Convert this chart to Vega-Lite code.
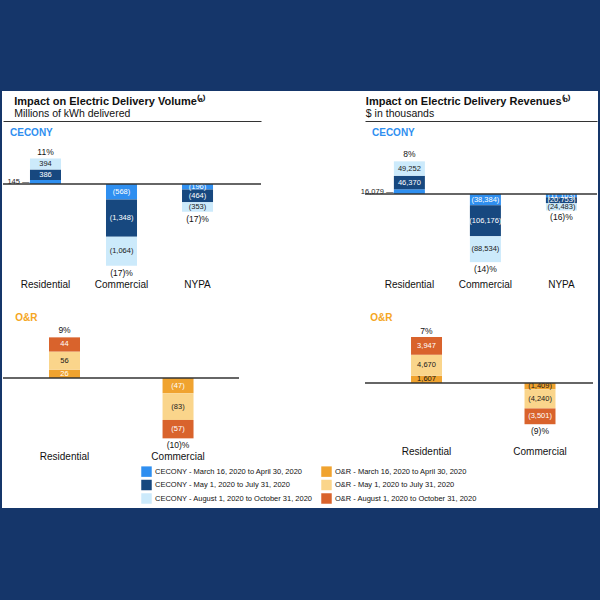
{
  "$schema": "https://vega.github.io/schema/vega-lite/v6.json",
  "background": "white",
  "padding": 0,
  "config": {"font": "Liberation Sans", "view": {"stroke": null}},
  "datasets": {
    "d": [
      {"company":"CECONY","metric":"Volume","category":"Residential","p":1,"series":"CECONY - March 16, 2020 to April 30, 2020","value":145,"pct":"11%"},
      {"company":"CECONY","metric":"Volume","category":"Residential","p":2,"series":"CECONY - May 1, 2020 to July 31, 2020","value":386,"pct":"11%"},
      {"company":"CECONY","metric":"Volume","category":"Residential","p":3,"series":"CECONY - August 1, 2020 to October 31, 2020","value":394,"pct":"11%"},
      {"company":"CECONY","metric":"Volume","category":"Commercial","p":1,"series":"CECONY - March 16, 2020 to April 30, 2020","value":-568,"pct":"(17)%"},
      {"company":"CECONY","metric":"Volume","category":"Commercial","p":2,"series":"CECONY - May 1, 2020 to July 31, 2020","value":-1348,"pct":"(17)%"},
      {"company":"CECONY","metric":"Volume","category":"Commercial","p":3,"series":"CECONY - August 1, 2020 to October 31, 2020","value":-1064,"pct":"(17)%"},
      {"company":"CECONY","metric":"Volume","category":"NYPA","p":1,"series":"CECONY - March 16, 2020 to April 30, 2020","value":-196,"pct":"(17)%"},
      {"company":"CECONY","metric":"Volume","category":"NYPA","p":2,"series":"CECONY - May 1, 2020 to July 31, 2020","value":-464,"pct":"(17)%"},
      {"company":"CECONY","metric":"Volume","category":"NYPA","p":3,"series":"CECONY - August 1, 2020 to October 31, 2020","value":-353,"pct":"(17)%"},
      {"company":"CECONY","metric":"Revenue","category":"Residential","p":1,"series":"CECONY - March 16, 2020 to April 30, 2020","value":16079,"pct":"8%"},
      {"company":"CECONY","metric":"Revenue","category":"Residential","p":2,"series":"CECONY - May 1, 2020 to July 31, 2020","value":46370,"pct":"8%"},
      {"company":"CECONY","metric":"Revenue","category":"Residential","p":3,"series":"CECONY - August 1, 2020 to October 31, 2020","value":49252,"pct":"8%"},
      {"company":"CECONY","metric":"Revenue","category":"Commercial","p":1,"series":"CECONY - March 16, 2020 to April 30, 2020","value":-38384,"pct":"(14)%"},
      {"company":"CECONY","metric":"Revenue","category":"Commercial","p":2,"series":"CECONY - May 1, 2020 to July 31, 2020","value":-106176,"pct":"(14)%"},
      {"company":"CECONY","metric":"Revenue","category":"Commercial","p":3,"series":"CECONY - August 1, 2020 to October 31, 2020","value":-88534,"pct":"(14)%"},
      {"company":"CECONY","metric":"Revenue","category":"NYPA","p":1,"series":"CECONY - March 16, 2020 to April 30, 2020","value":-11103,"pct":"(16)%"},
      {"company":"CECONY","metric":"Revenue","category":"NYPA","p":2,"series":"CECONY - May 1, 2020 to July 31, 2020","value":-20753,"pct":"(16)%"},
      {"company":"CECONY","metric":"Revenue","category":"NYPA","p":3,"series":"CECONY - August 1, 2020 to October 31, 2020","value":-24483,"pct":"(16)%"},
      {"company":"O&R","metric":"Volume","category":"Residential","p":1,"series":"O&R - March 16, 2020 to April 30, 2020","value":26,"pct":"9%"},
      {"company":"O&R","metric":"Volume","category":"Residential","p":2,"series":"O&R - May 1, 2020 to July 31, 2020","value":56,"pct":"9%"},
      {"company":"O&R","metric":"Volume","category":"Residential","p":3,"series":"O&R - August 1, 2020 to October 31, 2020","value":44,"pct":"9%"},
      {"company":"O&R","metric":"Volume","category":"Commercial","p":1,"series":"O&R - March 16, 2020 to April 30, 2020","value":-47,"pct":"(10)%"},
      {"company":"O&R","metric":"Volume","category":"Commercial","p":2,"series":"O&R - May 1, 2020 to July 31, 2020","value":-83,"pct":"(10)%"},
      {"company":"O&R","metric":"Volume","category":"Commercial","p":3,"series":"O&R - August 1, 2020 to October 31, 2020","value":-57,"pct":"(10)%"},
      {"company":"O&R","metric":"Revenue","category":"Residential","p":1,"series":"O&R - March 16, 2020 to April 30, 2020","value":1607,"pct":"7%"},
      {"company":"O&R","metric":"Revenue","category":"Residential","p":2,"series":"O&R - May 1, 2020 to July 31, 2020","value":4670,"pct":"7%"},
      {"company":"O&R","metric":"Revenue","category":"Residential","p":3,"series":"O&R - August 1, 2020 to October 31, 2020","value":3947,"pct":"7%"},
      {"company":"O&R","metric":"Revenue","category":"Commercial","p":1,"series":"O&R - March 16, 2020 to April 30, 2020","value":-1409,"pct":"(9)%"},
      {"company":"O&R","metric":"Revenue","category":"Commercial","p":2,"series":"O&R - May 1, 2020 to July 31, 2020","value":-4240,"pct":"(9)%"},
      {"company":"O&R","metric":"Revenue","category":"Commercial","p":3,"series":"O&R - August 1, 2020 to October 31, 2020","value":-3501,"pct":"(9)%"}
    ]
  },
  "spacing": 0,
  "vconcat": [
    {"width": 600, "height": 91, "view": {"fill": "#15366a", "stroke": null}, "data": {"values": []}, "mark": "point", "encoding": {}},
    {
      "spacing": 0,
      "hconcat": [
        {"width": 2, "height": 417, "view": {"fill": "#15366a", "stroke": null}, "data": {"values": []}, "mark": "point", "encoding": {}},
        {
          "spacing": 3,
          "vconcat": [
            {"width": 1, "height": 1, "data": {"values": []}, "mark": "point", "encoding": {}},
            {
              "spacing": 24,
              "vconcat": [
                {
                  "spacing": 104,
                  "bounds": "flush",
                  "hconcat": [
                    {
                      "width": 258, "height": 155,
                      "title": {"text": "Impact on Electric Delivery Volume⁽ᵃ⁾", "subtitle": "Millions of kWh delivered", "anchor": "start", "dx": 12, "offset": 2, "fontSize": 11, "fontWeight": "bold", "color": "#111111", "subtitleFontSize": 10.5, "subtitleColor": "#111111", "subtitlePadding": 2},
                      "data": {"name": "d"},
                      "transform": [
                        {"filter": "datum.company == 'CECONY' && datum.metric == 'Volume'"},
                        {"stack": "value", "groupby": ["category"], "sort": [{"field": "p", "order": "ascending"}], "as": ["v0", "v1"], "offset": "zero"},
                        {"calculate": "(datum.v0 + datum.v1) / 2", "as": "mid"}
                      ],
                      "layer": [
                        {
                          "mark": {"type": "bar"},
                          "encoding": {
                            "x": {"field": "category", "type": "nominal", "scale": {"domain": ["Residential", "Commercial", "NYPA"], "paddingInner": 0.592, "paddingOuter": 0.493, "align": 0.36, "round": false}, "axis": {"orient": "bottom", "domain": false, "ticks": false, "labelPadding": 3, "labelFontSize": 10, "labelColor": "#111111", "labelAngle": 0, "title": null}},
                            "y": {"field": "v1", "type": "quantitative", "scale": {"domain": [-3349, 2293], "nice": false, "zero": false}, "axis": null},
                            "y2": {"field": "v0"},
                            "color": {"field": "series", "type": "nominal", "scale": {"domain": ["CECONY - March 16, 2020 to April 30, 2020", "CECONY - May 1, 2020 to July 31, 2020", "CECONY - August 1, 2020 to October 31, 2020", "O&R - March 16, 2020 to April 30, 2020", "O&R - May 1, 2020 to July 31, 2020", "O&R - August 1, 2020 to October 31, 2020"], "range": ["#2f8ff0", "#17487f", "#cceafb", "#f0a32f", "#fad58b", "#d9632c"]}, "legend": {"orient": "none", "legendX": 141, "legendY": 466, "columns": 2, "title": null, "symbolType": "square", "symbolSize": 110, "symbolStrokeWidth": 0, "symbolOpacity": 1, "labelFontSize": 7.5, "labelColor": "#111111", "labelLimit": 400, "rowPadding": 2.5, "columnPadding": 8, "labelOffset": 3, "padding": 0}}
                          }
                        },
                        {
                          "transform": [{"filter": "!(datum.company == 'CECONY' && datum.category == 'Residential' && datum.p == 1)"}],
                          "mark": {"type": "text", "fontSize": 7.5, "baseline": "middle"},
                          "encoding": {
                            "x": {"field": "category", "type": "nominal", "scale": {"domain": ["Residential", "Commercial", "NYPA"], "paddingInner": 0.592, "paddingOuter": 0.493, "align": 0.36, "round": false}, "axis": {"orient": "top", "domain": true, "domainColor": "#333333", "domainWidth": 1.2, "ticks": false, "labels": false, "grid": false, "title": "CECONY", "titleColor": "#2f8ff0", "titleFontSize": 10, "titleFontWeight": "bold", "titleX": 6.5, "titleY": 11, "titleAlign": "left", "titleBaseline": "middle", "titleAngle": 0}},
                            "y": {"field": "mid", "type": "quantitative", "scale": {"domain": [-3349, 2293], "nice": false, "zero": false}, "axis": null},
                            "text": {"field": "value", "type": "quantitative", "format": "(,.0f"},
                            "color": {"condition": {"test": "(datum.company == 'CECONY' && datum.p == 3) || (datum.company == 'O&R' && datum.p == 2) || (datum.company == 'O&R' && datum.metric == 'Revenue' && datum.p == 1)", "value": "#1a1a1a"}, "value": "white"}
                          }
                        },
                        {
                          "transform": [{"filter": "datum.company == 'CECONY' && datum.category == 'Residential' && datum.p == 1"}, {"calculate": "format(datum.value, ',') + ' —'", "as": "lab"}],
                          "mark": {"type": "text", "fontSize": 7.5, "baseline": "middle", "align": "right", "dx": -16, "color": "#1a1a1a"},
                          "encoding": {
                            "x": {"field": "category", "type": "nominal", "scale": {"domain": ["Residential", "Commercial", "NYPA"], "paddingInner": 0.592, "paddingOuter": 0.493, "align": 0.36, "round": false}, "axis": null},
                            "y": {"field": "mid", "type": "quantitative", "scale": {"domain": [-3349, 2293], "nice": false, "zero": false}, "axis": null},
                            "text": {"field": "lab", "type": "nominal"}
                          }
                        },
                        {
                          "transform": [{"aggregate": [{"op": "sum", "field": "value", "as": "total"}], "groupby": ["category", "pct"]}, {"filter": "datum.total > 0"}],
                          "mark": {"type": "text", "fontSize": 8.5, "baseline": "middle", "dy": -7, "color": "#111111"},
                          "encoding": {
                            "x": {"field": "category", "type": "nominal", "scale": {"domain": ["Residential", "Commercial", "NYPA"], "paddingInner": 0.592, "paddingOuter": 0.493, "align": 0.36, "round": false}, "axis": null},
                            "y": {"field": "total", "type": "quantitative", "scale": {"domain": [-3349, 2293], "nice": false, "zero": false}, "axis": null},
                            "text": {"field": "pct", "type": "nominal"}
                          }
                        },
                        {
                          "transform": [{"aggregate": [{"op": "sum", "field": "value", "as": "total"}], "groupby": ["category", "pct"]}, {"filter": "datum.total < 0"}],
                          "mark": {"type": "text", "fontSize": 8.5, "baseline": "middle", "dy": 7, "color": "#111111"},
                          "encoding": {
                            "x": {"field": "category", "type": "nominal", "scale": {"domain": ["Residential", "Commercial", "NYPA"], "paddingInner": 0.592, "paddingOuter": 0.493, "align": 0.36, "round": false}, "axis": null},
                            "y": {"field": "total", "type": "quantitative", "scale": {"domain": [-3349, 2293], "nice": false, "zero": false}, "axis": null},
                            "text": {"field": "pct", "type": "nominal"}
                          }
                        },
                        {
                          "transform": [{"aggregate": [{"op": "count", "as": "n"}]}],
                          "mark": {"type": "rule", "color": "#333333", "strokeWidth": 1.5},
                          "encoding": {
                            "y": {"datum": 0, "type": "quantitative", "scale": {"domain": [-3349, 2293], "nice": false, "zero": false}, "axis": null}
                          }
                        }
                      ],
                      "resolve": {"axis": {"x": "independent"}}
                    },
                    {
                      "width": 232, "height": 155,
                      "title": {"text": "Impact on Electric Delivery Revenues⁽ᵇ⁾", "subtitle": "$ in thousands", "anchor": "start", "dx": 5, "offset": 2, "fontSize": 11, "fontWeight": "bold", "color": "#111111", "subtitleFontSize": 10.5, "subtitleColor": "#111111", "subtitlePadding": 2},
                      "data": {"name": "d"},
                      "transform": [
                        {"filter": "datum.company == 'CECONY' && datum.metric == 'Revenue'"},
                        {"stack": "value", "groupby": ["category"], "sort": [{"field": "p", "order": "ascending"}], "as": ["v0", "v1"], "offset": "zero"},
                        {"calculate": "(datum.v0 + datum.v1) / 2", "as": "mid"}
                      ],
                      "layer": [
                        {
                          "mark": {"type": "bar"},
                          "encoding": {
                            "x": {"field": "category", "type": "nominal", "scale": {"domain": ["Residential", "Commercial", "NYPA"], "paddingInner": 0.592, "paddingOuter": 0.322, "align": 0.59, "round": false}, "axis": {"orient": "bottom", "domain": false, "ticks": false, "labelPadding": 3, "labelFontSize": 10, "labelColor": "#111111", "labelAngle": 0, "title": null}},
                            "y": {"field": "v1", "type": "quantitative", "scale": {"domain": [-280440, 249660], "nice": false, "zero": false}, "axis": null},
                            "y2": {"field": "v0"},
                            "color": {"field": "series", "type": "nominal", "scale": {"domain": ["CECONY - March 16, 2020 to April 30, 2020", "CECONY - May 1, 2020 to July 31, 2020", "CECONY - August 1, 2020 to October 31, 2020", "O&R - March 16, 2020 to April 30, 2020", "O&R - May 1, 2020 to July 31, 2020", "O&R - August 1, 2020 to October 31, 2020"], "range": ["#2f8ff0", "#17487f", "#cceafb", "#f0a32f", "#fad58b", "#d9632c"]}, "legend": {"orient": "none", "legendX": 141, "legendY": 466, "columns": 2, "title": null, "symbolType": "square", "symbolSize": 110, "symbolStrokeWidth": 0, "symbolOpacity": 1, "labelFontSize": 7.5, "labelColor": "#111111", "labelLimit": 400, "rowPadding": 2.5, "columnPadding": 8, "labelOffset": 3, "padding": 0}}
                          }
                        },
                        {
                          "transform": [{"filter": "!(datum.company == 'CECONY' && datum.category == 'Residential' && datum.p == 1)"}],
                          "mark": {"type": "text", "fontSize": 7.5, "baseline": "middle"},
                          "encoding": {
                            "x": {"field": "category", "type": "nominal", "scale": {"domain": ["Residential", "Commercial", "NYPA"], "paddingInner": 0.592, "paddingOuter": 0.322, "align": 0.59, "round": false}, "axis": {"orient": "top", "domain": true, "domainColor": "#333333", "domainWidth": 1.2, "ticks": false, "labels": false, "grid": false, "title": "CECONY", "titleColor": "#2f8ff0", "titleFontSize": 10, "titleFontWeight": "bold", "titleX": 6.5, "titleY": 11, "titleAlign": "left", "titleBaseline": "middle", "titleAngle": 0}},
                            "y": {"field": "mid", "type": "quantitative", "scale": {"domain": [-280440, 249660], "nice": false, "zero": false}, "axis": null},
                            "text": {"field": "value", "type": "quantitative", "format": "(,.0f"},
                            "color": {"condition": {"test": "(datum.company == 'CECONY' && datum.p == 3) || (datum.company == 'O&R' && datum.p == 2) || (datum.company == 'O&R' && datum.metric == 'Revenue' && datum.p == 1)", "value": "#1a1a1a"}, "value": "white"}
                          }
                        },
                        {
                          "transform": [{"filter": "datum.company == 'CECONY' && datum.category == 'Residential' && datum.p == 1"}, {"calculate": "format(datum.value, ',') + ' —'", "as": "lab"}],
                          "mark": {"type": "text", "fontSize": 7.5, "baseline": "middle", "align": "right", "dx": -16, "color": "#1a1a1a"},
                          "encoding": {
                            "x": {"field": "category", "type": "nominal", "scale": {"domain": ["Residential", "Commercial", "NYPA"], "paddingInner": 0.592, "paddingOuter": 0.322, "align": 0.59, "round": false}, "axis": null},
                            "y": {"field": "mid", "type": "quantitative", "scale": {"domain": [-280440, 249660], "nice": false, "zero": false}, "axis": null},
                            "text": {"field": "lab", "type": "nominal"}
                          }
                        },
                        {
                          "transform": [{"aggregate": [{"op": "sum", "field": "value", "as": "total"}], "groupby": ["category", "pct"]}, {"filter": "datum.total > 0"}],
                          "mark": {"type": "text", "fontSize": 8.5, "baseline": "middle", "dy": -7, "color": "#111111"},
                          "encoding": {
                            "x": {"field": "category", "type": "nominal", "scale": {"domain": ["Residential", "Commercial", "NYPA"], "paddingInner": 0.592, "paddingOuter": 0.322, "align": 0.59, "round": false}, "axis": null},
                            "y": {"field": "total", "type": "quantitative", "scale": {"domain": [-280440, 249660], "nice": false, "zero": false}, "axis": null},
                            "text": {"field": "pct", "type": "nominal"}
                          }
                        },
                        {
                          "transform": [{"aggregate": [{"op": "sum", "field": "value", "as": "total"}], "groupby": ["category", "pct"]}, {"filter": "datum.total < 0"}],
                          "mark": {"type": "text", "fontSize": 8.5, "baseline": "middle", "dy": 7, "color": "#111111"},
                          "encoding": {
                            "x": {"field": "category", "type": "nominal", "scale": {"domain": ["Residential", "Commercial", "NYPA"], "paddingInner": 0.592, "paddingOuter": 0.322, "align": 0.59, "round": false}, "axis": null},
                            "y": {"field": "total", "type": "quantitative", "scale": {"domain": [-280440, 249660], "nice": false, "zero": false}, "axis": null},
                            "text": {"field": "pct", "type": "nominal"}
                          }
                        },
                        {
                          "transform": [{"aggregate": [{"op": "count", "as": "n"}]}],
                          "mark": {"type": "rule", "color": "#333333", "strokeWidth": 1.5},
                          "encoding": {
                            "y": {"datum": 0, "type": "quantitative", "scale": {"domain": [-280440, 249660], "nice": false, "zero": false}, "axis": null}
                          }
                        }
                      ],
                      "resolve": {"axis": {"x": "independent"}}
                    }
                  ]
                },
                {
                  "spacing": 126,
                  "bounds": "flush",
                  "hconcat": [
                    {
                      "width": 236, "height": 123,
                      "title": {"text": "O&R", "anchor": "start", "dx": 13, "offset": 3, "fontSize": 10, "fontWeight": "bold", "color": "#f5a623"},
                      "data": {"name": "d"},
                      "transform": [
                        {"filter": "datum.company == 'O&R' && datum.metric == 'Volume'"},
                        {"stack": "value", "groupby": ["category"], "sort": [{"field": "p", "order": "ascending"}], "as": ["v0", "v1"], "offset": "zero"},
                        {"calculate": "(datum.v0 + datum.v1) / 2", "as": "mid"}
                      ],
                      "layer": [
                        {
                          "mark": {"type": "bar"},
                          "encoding": {
                            "x": {"field": "category", "type": "nominal", "scale": {"domain": ["Residential", "Commercial"], "paddingInner": 0.727, "paddingOuter": 0.403, "align": 0.503, "round": false}, "axis": {"orient": "bottom", "domain": false, "ticks": false, "labelPadding": 2, "labelFontSize": 10, "labelColor": "#111111", "labelAngle": 0, "title": null}},
                            "y": {"field": "v1", "type": "quantitative", "scale": {"domain": [-220, 161.2], "nice": false, "zero": false}, "axis": null},
                            "y2": {"field": "v0"},
                            "color": {"field": "series", "type": "nominal", "scale": {"domain": ["CECONY - March 16, 2020 to April 30, 2020", "CECONY - May 1, 2020 to July 31, 2020", "CECONY - August 1, 2020 to October 31, 2020", "O&R - March 16, 2020 to April 30, 2020", "O&R - May 1, 2020 to July 31, 2020", "O&R - August 1, 2020 to October 31, 2020"], "range": ["#2f8ff0", "#17487f", "#cceafb", "#f0a32f", "#fad58b", "#d9632c"]}, "legend": {"orient": "none", "legendX": 141, "legendY": 466, "columns": 2, "title": null, "symbolType": "square", "symbolSize": 110, "symbolStrokeWidth": 0, "symbolOpacity": 1, "labelFontSize": 7.5, "labelColor": "#111111", "labelLimit": 400, "rowPadding": 2.5, "columnPadding": 8, "labelOffset": 3, "padding": 0}}
                          }
                        },
                        {
                          "mark": {"type": "text", "fontSize": 7.5, "baseline": "middle"},
                          "encoding": {
                            "x": {"field": "category", "type": "nominal", "scale": {"domain": ["Residential", "Commercial"], "paddingInner": 0.727, "paddingOuter": 0.403, "align": 0.503, "round": false}, "axis": null},
                            "y": {"field": "mid", "type": "quantitative", "scale": {"domain": [-220, 161.2], "nice": false, "zero": false}, "axis": null},
                            "text": {"field": "value", "type": "quantitative", "format": "(,.0f"},
                            "color": {"condition": {"test": "(datum.company == 'CECONY' && datum.p == 3) || (datum.company == 'O&R' && datum.p == 2) || (datum.company == 'O&R' && datum.metric == 'Revenue' && datum.p == 1)", "value": "#1a1a1a"}, "value": "white"}
                          }
                        },
                        {
                          "transform": [{"aggregate": [{"op": "sum", "field": "value", "as": "total"}], "groupby": ["category", "pct"]}, {"filter": "datum.total > 0"}],
                          "mark": {"type": "text", "fontSize": 8.5, "baseline": "middle", "dy": -7, "color": "#111111"},
                          "encoding": {
                            "x": {"field": "category", "type": "nominal", "scale": {"domain": ["Residential", "Commercial"], "paddingInner": 0.727, "paddingOuter": 0.403, "align": 0.503, "round": false}, "axis": null},
                            "y": {"field": "total", "type": "quantitative", "scale": {"domain": [-220, 161.2], "nice": false, "zero": false}, "axis": null},
                            "text": {"field": "pct", "type": "nominal"}
                          }
                        },
                        {
                          "transform": [{"aggregate": [{"op": "sum", "field": "value", "as": "total"}], "groupby": ["category", "pct"]}, {"filter": "datum.total < 0"}],
                          "mark": {"type": "text", "fontSize": 8.5, "baseline": "middle", "dy": 7, "color": "#111111"},
                          "encoding": {
                            "x": {"field": "category", "type": "nominal", "scale": {"domain": ["Residential", "Commercial"], "paddingInner": 0.727, "paddingOuter": 0.403, "align": 0.503, "round": false}, "axis": null},
                            "y": {"field": "total", "type": "quantitative", "scale": {"domain": [-220, 161.2], "nice": false, "zero": false}, "axis": null},
                            "text": {"field": "pct", "type": "nominal"}
                          }
                        },
                        {
                          "transform": [{"aggregate": [{"op": "count", "as": "n"}]}],
                          "mark": {"type": "rule", "color": "#333333", "strokeWidth": 1.5},
                          "encoding": {
                            "y": {"datum": 0, "type": "quantitative", "scale": {"domain": [-220, 161.2], "nice": false, "zero": false}, "axis": null}
                          }
                        }
                      ],
                      "resolve": {"axis": {"x": "independent"}}
                    },
                    {
                      "width": 228, "height": 118,
                      "title": {"text": "O&R", "anchor": "start", "dx": 6, "offset": 3, "fontSize": 10, "fontWeight": "bold", "color": "#f5a623"},
                      "data": {"name": "d"},
                      "transform": [
                        {"filter": "datum.company == 'O&R' && datum.metric == 'Revenue'"},
                        {"stack": "value", "groupby": ["category"], "sort": [{"field": "p", "order": "ascending"}], "as": ["v0", "v1"], "offset": "zero"},
                        {"calculate": "(datum.v0 + datum.v1) / 2", "as": "mid"}
                      ],
                      "layer": [
                        {
                          "mark": {"type": "bar"},
                          "encoding": {
                            "x": {"field": "category", "type": "nominal", "scale": {"domain": ["Residential", "Commercial"], "paddingInner": 0.727, "paddingOuter": 0.368, "align": 0.551, "round": false}, "axis": {"orient": "bottom", "domain": false, "ticks": false, "labelPadding": 2, "labelFontSize": 10, "labelColor": "#111111", "labelAngle": 0, "title": null}},
                            "y": {"field": "v1", "type": "quantitative", "scale": {"domain": [-13542, 12654], "nice": false, "zero": false}, "axis": null},
                            "y2": {"field": "v0"},
                            "color": {"field": "series", "type": "nominal", "scale": {"domain": ["CECONY - March 16, 2020 to April 30, 2020", "CECONY - May 1, 2020 to July 31, 2020", "CECONY - August 1, 2020 to October 31, 2020", "O&R - March 16, 2020 to April 30, 2020", "O&R - May 1, 2020 to July 31, 2020", "O&R - August 1, 2020 to October 31, 2020"], "range": ["#2f8ff0", "#17487f", "#cceafb", "#f0a32f", "#fad58b", "#d9632c"]}, "legend": {"orient": "none", "legendX": 141, "legendY": 466, "columns": 2, "title": null, "symbolType": "square", "symbolSize": 110, "symbolStrokeWidth": 0, "symbolOpacity": 1, "labelFontSize": 7.5, "labelColor": "#111111", "labelLimit": 400, "rowPadding": 2.5, "columnPadding": 8, "labelOffset": 3, "padding": 0}}
                          }
                        },
                        {
                          "mark": {"type": "text", "fontSize": 7.5, "baseline": "middle"},
                          "encoding": {
                            "x": {"field": "category", "type": "nominal", "scale": {"domain": ["Residential", "Commercial"], "paddingInner": 0.727, "paddingOuter": 0.368, "align": 0.551, "round": false}, "axis": null},
                            "y": {"field": "mid", "type": "quantitative", "scale": {"domain": [-13542, 12654], "nice": false, "zero": false}, "axis": null},
                            "text": {"field": "value", "type": "quantitative", "format": "(,.0f"},
                            "color": {"condition": {"test": "(datum.company == 'CECONY' && datum.p == 3) || (datum.company == 'O&R' && datum.p == 2) || (datum.company == 'O&R' && datum.metric == 'Revenue' && datum.p == 1)", "value": "#1a1a1a"}, "value": "white"}
                          }
                        },
                        {
                          "transform": [{"aggregate": [{"op": "sum", "field": "value", "as": "total"}], "groupby": ["category", "pct"]}, {"filter": "datum.total > 0"}],
                          "mark": {"type": "text", "fontSize": 8.5, "baseline": "middle", "dy": -6, "color": "#111111"},
                          "encoding": {
                            "x": {"field": "category", "type": "nominal", "scale": {"domain": ["Residential", "Commercial"], "paddingInner": 0.727, "paddingOuter": 0.368, "align": 0.551, "round": false}, "axis": null},
                            "y": {"field": "total", "type": "quantitative", "scale": {"domain": [-13542, 12654], "nice": false, "zero": false}, "axis": null},
                            "text": {"field": "pct", "type": "nominal"}
                          }
                        },
                        {
                          "transform": [{"aggregate": [{"op": "sum", "field": "value", "as": "total"}], "groupby": ["category", "pct"]}, {"filter": "datum.total < 0"}],
                          "mark": {"type": "text", "fontSize": 8.5, "baseline": "middle", "dy": 7, "color": "#111111"},
                          "encoding": {
                            "x": {"field": "category", "type": "nominal", "scale": {"domain": ["Residential", "Commercial"], "paddingInner": 0.727, "paddingOuter": 0.368, "align": 0.551, "round": false}, "axis": null},
                            "y": {"field": "total", "type": "quantitative", "scale": {"domain": [-13542, 12654], "nice": false, "zero": false}, "axis": null},
                            "text": {"field": "pct", "type": "nominal"}
                          }
                        },
                        {
                          "transform": [{"aggregate": [{"op": "count", "as": "n"}]}],
                          "mark": {"type": "rule", "color": "#333333", "strokeWidth": 1.5},
                          "encoding": {
                            "y": {"datum": 0, "type": "quantitative", "scale": {"domain": [-13542, 12654], "nice": false, "zero": false}, "axis": null}
                          }
                        }
                      ],
                      "resolve": {"axis": {"x": "independent"}}
                    }
                  ]
                }
              ]
            }
          ]
        },
        {"width": 4, "height": 417, "view": {"fill": "#15366a", "stroke": null}, "data": {"values": []}, "mark": "point", "encoding": {}}
      ]
    },
    {"width": 600, "height": 92, "view": {"fill": "#15366a", "stroke": null}, "data": {"values": []}, "mark": "point", "encoding": {}}
  ]
}
